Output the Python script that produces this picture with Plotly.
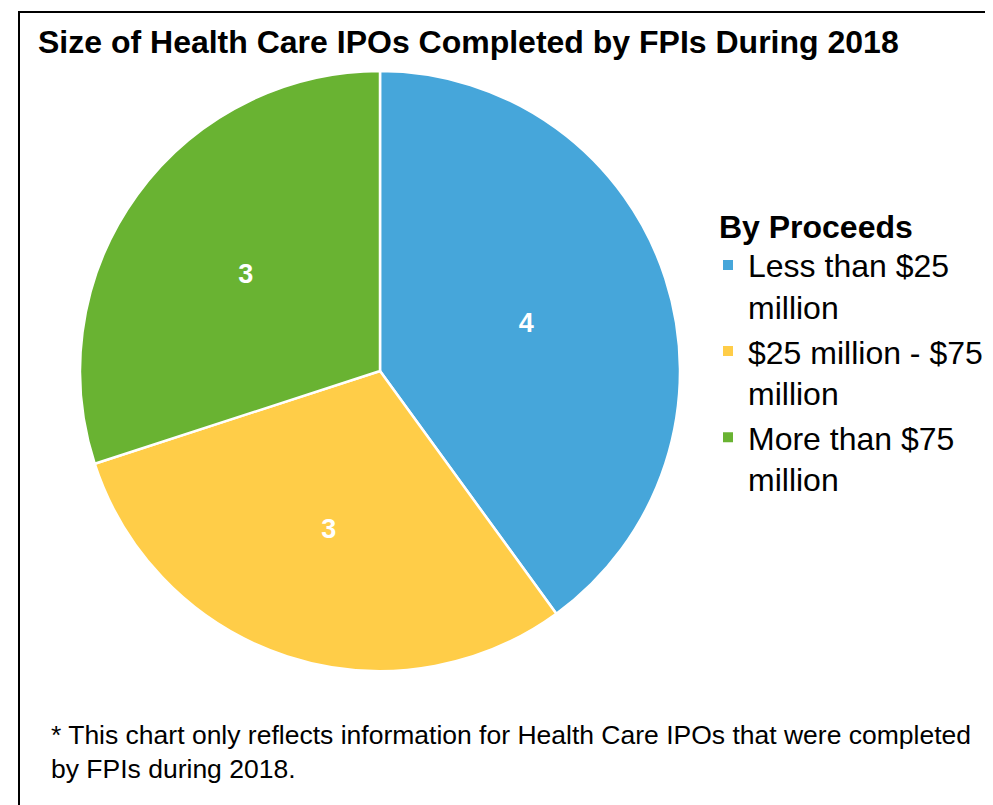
import plotly.graph_objects as go

categories = ["Less than $25<br>million", "$25 million - $75<br>million", "More than $75<br>million"]
values = [4, 3, 3]
colors = ["#46A6DA", "#FFCD48", "#69B332"]

W, H = 993, 805
OFF = 8  # page body margin


def fx(x):
    return (x - OFF) / W


def fy(y):
    return 1 - (y - OFF) / H


fig = go.Figure(go.Pie(
    labels=categories,
    values=values,
    sort=False,
    direction="clockwise",
    rotation=0,
    marker=dict(colors=colors, line=dict(color="white", width=2.5)),
    textinfo="value",
    textposition="inside",
    insidetextorientation="horizontal",
    textfont=dict(family="Liberation Sans, Arial", size=27, color="white", weight="bold"),
    domain=dict(x=[fx(80), fx(680)], y=[fy(671), fy(71)]),
    hoverinfo="label+value",
))

fig.update_layout(
    width=W, height=H,
    margin=dict(l=0, r=0, t=0, b=0),
    paper_bgcolor="white",
    plot_bgcolor="white",
    font=dict(family="Liberation Sans, Arial", color="black"),
    showlegend=True,
    legend=dict(
        x=fx(708), y=fy(196), xanchor="left", yanchor="top",
        title=dict(text="&nbsp;<b>By Proceeds</b>", font=dict(size=32)),
        font=dict(size=32),
        valign="top",
        itemsizing="constant",
        bgcolor="rgba(0,0,0,0)",
    ),
    shapes=[dict(type="rect", xref="paper", yref="paper",
                 x0=fx(19), x1=fx(987), y0=-0.01, y1=fy(12),
                 line=dict(color="black", width=2))],
    annotations=[
        dict(text="<b>Size of Health Care IPOs Completed by FPIs During 2018</b>",
             xref="paper", yref="paper", x=fx(36), y=fy(42),
             xanchor="left", yanchor="middle", showarrow=False,
             font=dict(size=32)),
        dict(text="* This chart only reflects information for Health Care IPOs that were completed<br>by FPIs during 2018.",
             xref="paper", yref="paper", x=fx(49), y=fy(752),
             xanchor="left", yanchor="middle", align="left", showarrow=False,
             font=dict(size=26.5)),
    ],
)

fig.write_html("out.html")
